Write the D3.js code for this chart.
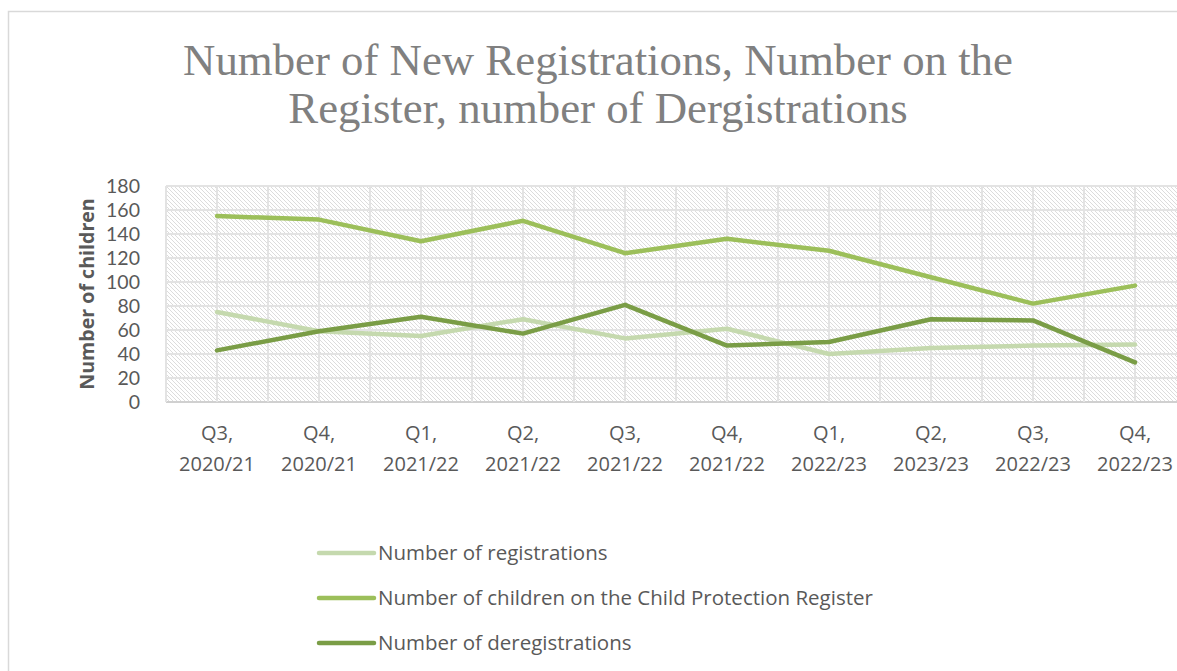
<!DOCTYPE html>
<html>
<head>
<meta charset="utf-8">
<script src="https://cdn.jsdelivr.net/npm/d3@7"></script>
<style>
  body { margin: 0; background: #fff; overflow: hidden; }
  svg { display: block; }
</style>
</head>
<body>
<div id="chart"></div>
<script>
// données
const quarters = ["Q3,", "Q4,", "Q1,", "Q2,", "Q3,", "Q4,", "Q1,", "Q2,", "Q3,", "Q4,"]
const years = ["2020/21", "2020/21", "2021/22", "2021/22", "2021/22", "2021/22", "2022/23", "2023/23", "2022/23", "2022/23"]
const registrations = [75, 59, 55, 69, 53, 61, 40, 45, 47, 48]
const onRegister = [155, 152, 134, 151, 124, 136, 126, 104, 82, 97]
const deregistrations = [43, 59, 71, 57, 81, 47, 50, 69, 68, 33]
const seriesNames = ["Number of registrations", "Number of children on the Child Protection Register", "Number of deregistrations"]
const yTicks = [0, 20, 40, 60, 80, 100, 120, 140, 160, 180]

const colors = ["#c5d9ae", "#9cbf5a", "#7a9d46"]

const width = 1177, height = 671
const plot = {left: 166, right: 1186, top: 186, bottom: 402}

const svg = d3.select("#chart").append("svg")
  .attr("width", width)
  .attr("height", height)

// cadre du graphique
svg.append("rect")
  .attr("x", 8.5).attr("y", 11.5)
  .attr("width", 1200).attr("height", 700)
  .attr("fill", "white")
  .attr("stroke", "#d9d9d9")
  .attr("stroke-width", 1.5)

// titre
const title = svg.append("text")
  .attr("text-anchor", "middle")
  .attr("fill", "#808080")
  .style("font-family", "'Liberation Serif', 'DejaVu Serif', serif")
  .style("font-size", "44.8px")
title.append("tspan").attr("x", 598).attr("y", 75).text("Number of New Registrations, Number on the")
title.append("tspan").attr("x", 598).attr("y", 123).text("Register, number of Dergistrations")

// hachures
const defs = svg.append("defs")
const pat = defs.append("pattern")
  .attr("id", "hatch")
  .attr("patternUnits", "userSpaceOnUse")
  .attr("width", 4).attr("height", 4)
pat.append("rect").attr("width", 4).attr("height", 4).attr("fill", "white")
pat.append("path")
  .attr("d", "M-1,-1 L5,5 M-1,3 L1,5 M3,-1 L5,1")
  .attr("stroke", "#dcdcdc")
  .attr("stroke-width", 1)

const x = d3.scaleBand()
  .domain(d3.range(quarters.length))
  .range([plot.left, plot.right])

const y = d3.scaleLinear()
  .domain([0, 180])
  .range([plot.bottom, plot.top])

svg.append("rect")
  .attr("x", plot.left).attr("y", plot.top)
  .attr("width", plot.right - plot.left)
  .attr("height", plot.bottom - plot.top)
  .attr("fill", "url(#hatch)")

// grille
const grid = svg.append("g")
grid.selectAll("line.h")
  .data(yTicks)
  .join("line")
  .attr("class", "h")
  .attr("x1", plot.left).attr("x2", plot.right)
  .attr("y1", d => y(d)).attr("y2", d => y(d))
  .attr("stroke", d => d === 0 ? "#d0d0d0" : "#e3e3e3")
  .attr("stroke-width", 2)

const vLines = []
d3.range(quarters.length).forEach(i => {
  vLines.push(x(i))
  vLines.push(x(i) + x.bandwidth() / 2)
})
grid.selectAll("line.v")
  .data(vLines)
  .join("line")
  .attr("class", "v")
  .attr("x1", d => d).attr("x2", d => d)
  .attr("y1", plot.top).attr("y2", plot.bottom)
  .attr("stroke", "#e3e3e3")
  .attr("stroke-width", 2)

// axe Y
const yAxis = svg.append("g")
  .attr("transform", "translate(" + (plot.left - 23) + ",0)")
  .call(d3.axisLeft(y).tickValues(yTicks).tickSize(0))
yAxis.select(".domain").remove()
yAxis.selectAll("text")
  .attr("fill", "#595959")
  .attr("dy", "0.35em")
  .style("font-family", "Lato, sans-serif")
  .style("font-size", "19.5px")

svg.append("text")
  .attr("transform", "translate(94," + ((plot.top + plot.bottom) / 2) + ") rotate(-90)")
  .attr("text-anchor", "middle")
  .attr("fill", "#595959")
  .style("font-family", "'Open Sans', sans-serif")
  .style("font-weight", "bold")
  .style("font-size", "19.6px")
  .text("Number of children")

// axe X
const xLabels = svg.append("g")
  .selectAll("text")
  .data(d3.range(quarters.length))
  .join("text")
  .attr("text-anchor", "middle")
  .attr("fill", "#595959")
  .style("font-family", "'Open Sans', sans-serif")
  .style("font-size", "20px")
xLabels.append("tspan")
  .attr("x", d => x(d) + x.bandwidth() / 2)
  .attr("y", 440)
  .text(d => quarters[d])
xLabels.append("tspan")
  .attr("x", d => x(d) + x.bandwidth() / 2)
  .attr("y", 471)
  .text(d => years[d])

// courbes
const line = d3.line()
  .x((d, i) => x(i) + x.bandwidth() / 2)
  .y(d => y(d))

const allSeries = [registrations, onRegister, deregistrations]
svg.append("g")
  .selectAll("path")
  .data(allSeries)
  .join("path")
  .attr("d", d => line(d))
  .attr("fill", "none")
  .attr("stroke", (d, i) => colors[i])
  .attr("stroke-width", 4.5)
  .attr("stroke-linejoin", "round")
  .attr("stroke-linecap", "round")

// légende
const legend = svg.append("g")
  .selectAll("g")
  .data(seriesNames)
  .join("g")
  .attr("transform", (d, i) => "translate(319," + (553 + i * 45) + ")")
legend.append("line")
  .attr("x1", 0).attr("x2", 55)
  .attr("stroke", (d, i) => colors[i])
  .attr("stroke-width", 4.5)
  .attr("stroke-linecap", "round")
legend.append("text")
  .attr("x", 59)
  .attr("dy", "0.35em")
  .attr("fill", "#595959")
  .style("font-family", "'Open Sans', sans-serif")
  .style("font-size", "20.5px")
  .text(d => d)
</script>
</body>
</html>
